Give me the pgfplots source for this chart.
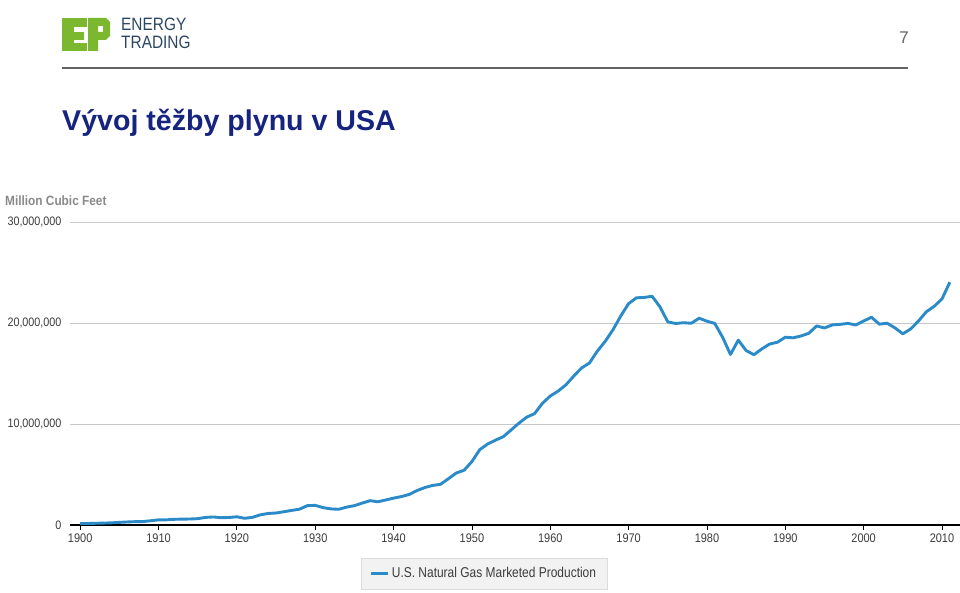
\documentclass[border=0pt]{standalone}
\usepackage{fontspec}
\setmainfont{Liberation Sans}
\newfontfamily\chartfont[FakeStretch=0.88]{Liberation Sans}
\newfontfamily\legfont[FakeStretch=0.84]{Liberation Sans}
\newfontfamily\logofont[FakeStretch=0.86]{Liberation Sans}
\usepackage{pgfplots}
\pgfplotsset{compat=1.18}
\definecolor{gasblue}{RGB}{42,139,200}
\definecolor{gridgray}{RGB}{200,200,200}
\definecolor{tickgray}{RGB}{60,60,60}
\definecolor{labelgray}{RGB}{138,138,138}
\definecolor{legfill}{RGB}{242,242,242}
\definecolor{legdraw}{RGB}{220,220,220}
\definecolor{epgreen}{RGB}{124,184,47}
\definecolor{logoblue}{RGB}{45,71,99}
\definecolor{titleblue}{RGB}{22,36,128}
\definecolor{rulegray}{RGB}{100,100,100}
\pgfplotstableread{
year value
1900 128000
1901 150000
1902 170000
1903 190000
1904 215000
1905 260000
1906 300000
1907 330000
1908 340000
1909 420000
1910 509000
1911 513000
1912 562000
1913 582000
1914 592000
1915 628000
1916 753000
1917 795000
1918 721000
1919 746000
1920 812000
1921 662000
1922 762000
1923 1007000
1924 1142000
1925 1188000
1926 1313000
1927 1445000
1928 1568000
1929 1917000
1930 1943000
1931 1721000
1932 1594000
1933 1555000
1934 1771000
1935 1917000
1936 2168000
1937 2408000
1938 2297000
1939 2477000
1940 2660000
1941 2813000
1942 3029000
1943 3414000
1944 3711000
1945 3919000
1946 4031000
1947 4582000
1948 5148000
1949 5420000
1950 6282000
1951 7457000
1952 8013000
1953 8397000
1954 8743000
1955 9405000
1956 10082000
1957 10680000
1958 11030000
1959 12046000
1960 12771000
1961 13254000
1962 13877000
1963 14747000
1964 15547000
1965 16040000
1966 17207000
1967 18171000
1968 19322000
1969 20698000
1970 21921000
1971 22493000
1972 22532000
1973 22648000
1974 21601000
1975 20109000
1976 19952000
1977 20025000
1978 19974000
1979 20471000
1980 20180000
1981 19956000
1982 18582000
1983 16884000
1984 18304000
1985 17270000
1986 16859000
1987 17433000
1988 17918000
1989 18095000
1990 18594000
1991 18532000
1992 18712000
1993 18982000
1994 19710000
1995 19506000
1996 19812000
1997 19866000
1998 19961000
1999 19805000
2000 20198000
2001 20570000
2002 19885000
2003 19974000
2004 19517000
2005 18927000
2006 19410000
2007 20196000
2008 21112000
2009 21648000
2010 22382000
2011 24036000
}\gasdata
\begin{document}
\begin{tikzpicture}[x=1bp,y=1bp]
\useasboundingbox (0,0) rectangle (960,593);
\fill[white] (0,0) rectangle (960,593);
% logo
\fill[epgreen] (62,575) rectangle (74,542);
\fill[epgreen] (62,575) rectangle (87,566);
\fill[epgreen] (62,561) rectangle (84,553);
\fill[epgreen] (62,550) rectangle (87,542);
\fill[epgreen,even odd rule] (88,575) -- (106,575) -- (110,571) -- (110,557) -- (106,553) -- (98,553) -- (98,542) -- (88,542) -- cycle
  (98,567) rectangle (103,561);
\node[anchor=base west, inner sep=0, text height=13bp, text depth=0bp, text=logoblue, font=\logofont\fontsize{18}{18}\selectfont] at (121,562) {ENERGY};
\node[anchor=base west, inner sep=0, text height=13bp, text depth=0bp, text=logoblue, font=\logofont\fontsize{18}{18}\selectfont] at (121,544) {TRADING};
% page number and rule
\node[anchor=center, inner sep=0, text=rulegray, font=\fontsize{17}{17}\selectfont] at (904,555) {7};
\draw[rulegray, line width=1.3bp] (62,525) -- (908,525);
% title
\node[anchor=base west, inner sep=0, text=titleblue, font=\bfseries\fontsize{28.7}{29}\selectfont] at (62,462) {Vývoj těžby plynu v USA};
% y label
\node[anchor=west, inner sep=0, text=labelgray, font=\chartfont\bfseries\fontsize{13.5}{14}\selectfont] at (5,392) {Million Cubic Feet};
\coordinate (axpos) at (70,68);
\begin{axis}[
  at={(axpos)}, anchor=south west,
  scale only axis, width=890bp, height=303bp,
  xmin=1898.7, xmax=2012.3, ymin=0, ymax=30000000,
  axis line style={draw=none},
  xtick={1900,1910,...,2010},
  ytick={10000000,20000000,30000000},
  extra y ticks={0},
  extra y tick style={grid=major, major grid style={black, line width=1.3bp}},
  ymajorgrids,
  major grid style={gridgray, line width=0.9bp},
  tick align=outside,
  xtick pos=bottom,
  ytick style={draw=none},
  xtick style={black, line width=0.8bp},
  major tick length=5bp,
  scaled y ticks=false,
  /pgf/number format/assume math mode=true,
  yticklabel style={/pgf/number format/fixed, /pgf/number format/1000 sep={,}, font=\chartfont\fontsize{12.3}{14}\selectfont, text=tickgray},
  xticklabel style={/pgf/number format/1000 sep={}, font=\chartfont\fontsize{12.5}{14}\selectfont, text=tickgray},
  legend style={at={(0.4652,-0.160)}, anchor=center, fill=legfill, draw=legdraw,
    font=\legfont\fontsize{14.3}{16}\selectfont, text=tickgray, inner xsep=9bp, inner ysep=7.5bp},
  legend image code/.code={\draw[#1] (0bp,0bp) -- (17bp,0bp);},
]
\addplot[gasblue, line width=2.9bp, line join=round] table[x=year, y=value] {\gasdata};
\addlegendentry{U.S. Natural Gas Marketed Production}
\end{axis}
\end{tikzpicture}
\end{document}
